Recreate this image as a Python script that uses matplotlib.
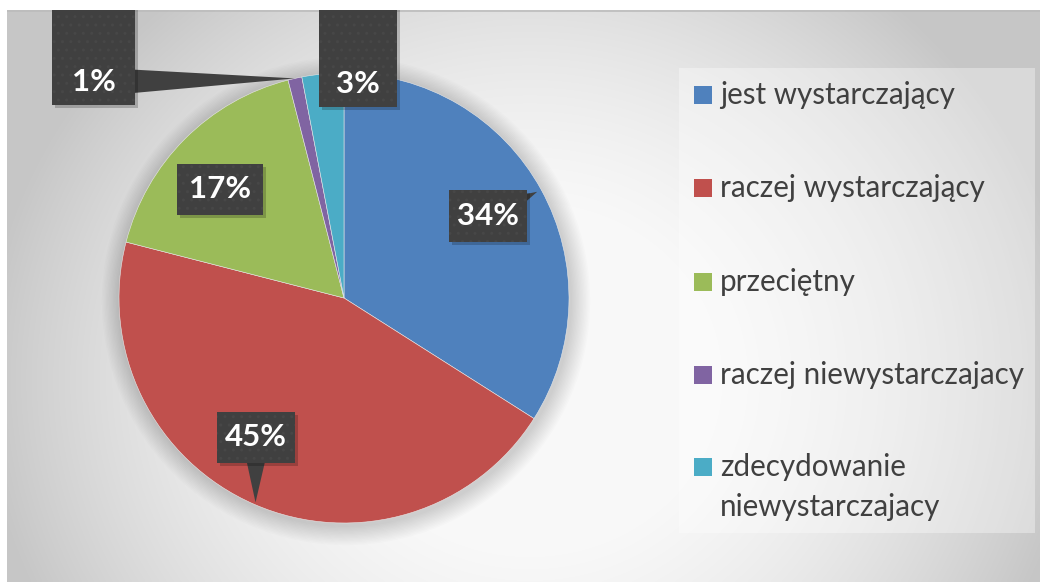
import numpy as np
import matplotlib
matplotlib.use("Agg")
import matplotlib.pyplot as plt
from matplotlib.patches import Rectangle, Circle

# ---- data ----
categories = ["jest wystarczający", "raczej wystarczający", "przeciętny",
              "raczej niewystarczajacy", "zdecydowanie\nniewystarczajacy"]
values = [34, 45, 17, 1, 3]
labels = ["34%", "45%", "17%", "1%", "3%"]
colors = ["#4F81BD", "#C0504D", "#9BBB59", "#8064A2", "#4BACC6"]

# ---- layout (reference pixel coords: x right, y down) ----
W, H = 1040, 582
X0, Y0 = 7, 10            # chart area top-left
PIE_C = (344, 298)
PIE_R = 225
# label boxes: (left, top, right, bottom) in reference pixels
label_box = [(449, 190, 527, 242), (217, 412, 295, 463), (177, 164, 263, 215),
             (52, 0, 135, 105), (319, 0, 397, 107)]
text_dy = [0, 0, 0, 23, 23]          # text centre above box bottom (tall boxes)
show_tail = [True, True, False, True, False]
tail_frac = [0.98, 0.99, 1.0, 1.0, 1.0]

BOX = "#404040"
TXT = "#404040"

fig = plt.figure(figsize=(W / 100, H / 100), dpi=100)
fig.patch.set_facecolor("white")
ax = fig.add_axes([X0 / W, 0, (W - X0) / W, (H - Y0) / H])

def fy(y):  # reference y (down) -> data y (up)
    return H - y

# background radial gradient
xs = np.linspace(X0, W, 600)
ys = np.linspace(Y0, H, 340)
XX, YY = np.meshgrid(xs, ys)
r2 = ((XX - 530) / 520) ** 2 + ((YY - 380) / 480) ** 2
v = np.clip(1.0 - 0.2 * r2, 0.78, 0.975)
ax.imshow(np.dstack([v, v, v]), extent=(X0, W, 0, H - Y0), origin="upper",
          aspect="auto", zorder=0, interpolation="bicubic")
ax.plot([X0, W], [H - Y0 - 0.5, H - Y0 - 0.5], color="#bcbcbc", lw=1.2, zorder=1)

# soft shadow around pie
for k in range(14):
    ax.add_patch(Circle((PIE_C[0] + 2, fy(PIE_C[1]) - 3), PIE_R + 1 + k * 1.4,
                        color="black", alpha=0.01, lw=0, zorder=1))

wedges, _ = ax.pie(values, colors=colors, startangle=90, counterclock=False,
                   center=(PIE_C[0], fy(PIE_C[1])), radius=PIE_R, frame=True,
                   wedgeprops=dict(linewidth=0.4, edgecolor="#e8e8e8"))
for w in wedges:
    w.set_zorder(2)
ax.set_xlim(X0, W)
ax.set_ylim(0, H - Y0)
ax.set_axis_off()

# data labels with callouts
total = float(sum(values))
cum = 0.0
for i, val in enumerate(values):
    mid = np.deg2rad(90 - 360 * (cum + val / 2) / total)
    cum += val
    px = PIE_C[0] + tail_frac[i] * PIE_R * np.cos(mid)
    py = fy(PIE_C[1]) + tail_frac[i] * PIE_R * np.sin(mid)
    l, t, r, b = label_box[i]
    cy = b - text_dy[i] if text_dy[i] else (t + b) / 2
    cx = (l + r) / 2
    if show_tail[i]:
        ax.annotate("", xy=(px, py), xytext=(cx, fy(cy)), textcoords="data",
                    arrowprops=dict(arrowstyle="wedge,tail_width=1.05,shrink_factor=0.5",
                                    fc=BOX, ec="none", shrinkA=0, shrinkB=0,
                                    mutation_scale=20),
                    zorder=4)
    # drop shadow
    ax.add_patch(Rectangle((l + 3, fy(b) - 3), r - l, b - t, fc="black",
                           alpha=0.2, lw=0, zorder=4.5, clip_on=True))
    ax.add_patch(Rectangle((l, fy(b)), r - l, b - t, fc=BOX, ec="#474747",
                           lw=0, hatch="..", zorder=5, clip_on=True))
    ax.text(cx, fy(cy), labels[i], ha="center", va="center", color="white",
            family="Lato", weight="bold", size=22.5, zorder=6)

# legend (drawn from categories/colors)
ax.add_patch(Rectangle((679, fy(533)), 356, 465, fc="white", ec="none",
                       alpha=0.35, zorder=3))
leg_y = [95, 188, 282, 375, 467]
for i, cat in enumerate(categories):
    yc = fy(leg_y[i])
    ax.add_patch(Rectangle((694, yc - 9), 18, 18, fc=colors[i], ec="none", zorder=4))
    for k, line in enumerate(cat.split("\n")):
        ax.text(720, yc - 9 - 40 * k, line, ha="left", va="baseline", color=TXT,
                family="Lato", size=21.3, zorder=4)

fig.savefig("out.png", dpi=100)
